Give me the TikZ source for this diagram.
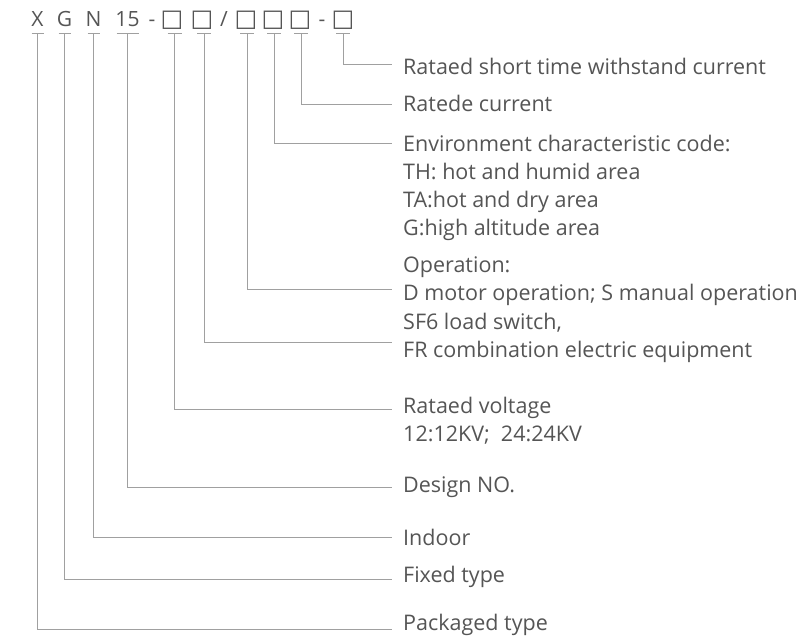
\documentclass[tikz,border=0pt]{standalone}
\usepackage{fontspec}
\setmainfont{Open Sans}
\newfontfamily\symfont{DejaVu Sans}
\definecolor{txt}{HTML}{555555}
\definecolor{ln}{HTML}{A0A0A0}
\begin{document}
\begin{tikzpicture}[x=1pt,y=-1pt,
  hdr/.style={inner sep=0pt,anchor=base,text=txt,font=\fontsize{21}{22}\selectfont},
  box/.style={hdr,font=\symfont\fontsize{24}{24}\selectfont},
  lbl/.style={inner sep=0pt,anchor=west,align=left,text=txt,font=\fontsize{21.5}{28}\selectfont},
  conn/.style={draw=ln,line width=1pt}]
\useasboundingbox (0,0) rectangle (810,640);
% header characters
\node[hdr] (h1) at (37.5,26) {X};
\node[hdr] (h2) at (64.5,26) {G};
\node[hdr] (h3) at (93.5,26) {N};
\node[hdr] (h4) at (127.5,26) {15};
\node[hdr] (d1) at (152,26) {-};
\node[box] (h5) at (172,26.5) {□};
\node[box] (h6) at (202,26.5) {□};
\node[hdr] (sl) at (224,26) {/};
\node[box] (h7) at (246,26.5) {□};
\node[box] (h8) at (273,26.5) {□};
\node[box] (h9) at (300,26.5) {□};
\node[hdr] (d2) at (322,26) {-};
\node[box] (h10) at (343,26.5) {□};
% underline T tops
\foreach \x/\w/\n in {37.5/6/1,64.5/6/2,93.5/6/3,127.5/11/4,174.5/7/5,204/7/6,247/7/7,274/7/8,301/7/9,343/7/10}{
  \coordinate (u\n) at (\x,33.5);
  \draw[conn] (\x-\w,33.5) -- (\x+\w,33.5);
}
% labels
\node[lbl] (l10) at (403,66) {Rataed short time withstand current};
\node[lbl] (l9) at (403,103) {Ratede current};
\node[lbl] (l8) at (403,187.5) {Environment characteristic code:\\TH: hot and humid area\\TA:hot and dry area\\G:high altitude area};
\node[lbl] (l7) at (403,281.5) {Operation:\\D motor operation; S manual operation};
\node[lbl] (l6) at (403,337.5) {SF6 load switch,\\FR combination electric equipment};
\node[lbl] (l5) at (403,420.5) {Rataed voltage\\12:12KV;~ 24:24KV};
\node[lbl] (l4) at (403,487) {Design NO.};
\node[lbl] (l3) at (403,537) {Indoor};
\node[lbl] (l2) at (403,577) {Fixed type};
\node[lbl] (l1) at (403,625) {Packaged type};
% line ends
\foreach \n/\y in {10/64,9/104,8/143,7/289,6/342,5/409,4/487,3/537,2/579,1/629}{
  \coordinate (e\n) at (392,\y);
  \draw[conn] (u\n) |- (e\n);
}
\end{tikzpicture}
\end{document}
